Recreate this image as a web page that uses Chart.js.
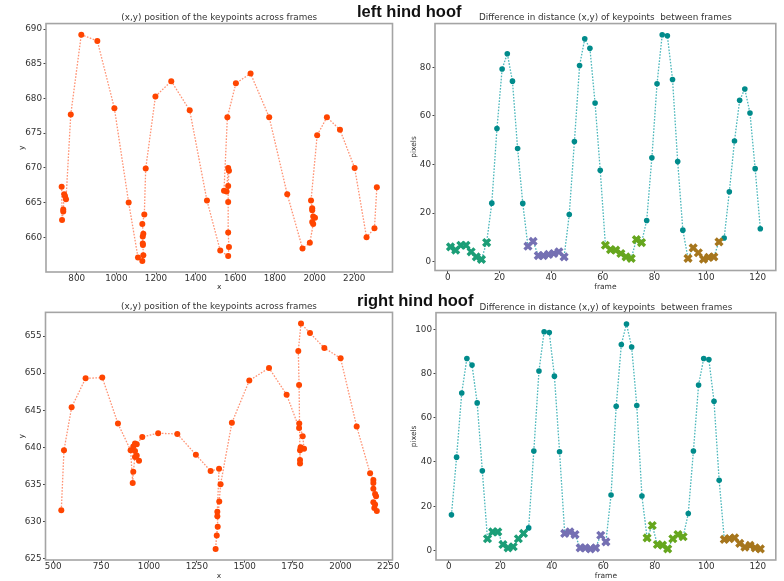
<!DOCTYPE html>
<html>
<head>
<meta charset="utf-8">
<script src="https://cdn.jsdelivr.net/npm/chart.js@4.4.1/dist/chart.umd.min.js"></script>
<style>
  body { margin: 0; background: #fff; }
  #page { position: relative; width: 784px; height: 581px; overflow: hidden; background: #fff; }
  .panel { position: absolute; }
  .hoof { position: absolute; z-index: 5; white-space: nowrap; line-height: 20px;
          font: bold 16.5px "Liberation Sans", Arial, sans-serif; color: #111; }
</style>
</head>
<body>
<div id="page">
  <div class="panel" style="left:0;top:0;width:400px;height:294px"><canvas id="tl"></canvas></div>
  <div class="panel" style="left:400px;top:0;width:384px;height:294px"><canvas id="tr"></canvas></div>
  <div class="panel" style="left:0;top:290px;width:400px;height:291px"><canvas id="bl"></canvas></div>
  <div class="panel" style="left:400px;top:290px;width:384px;height:291px"><canvas id="br"></canvas></div>
  <div class="hoof" style="left:357px;top:2px">left hind hoof</div>
  <div class="hoof" style="left:357px;top:291px">right hind hoof</div>
</div>
<script>
// keypoint track, left hind hoof (pixel coords)
const leftPosX = [724, 726, 732, 732, 737, 741, 746, 770, 823, 904, 990, 1062, 1109,
  1131, 1136, 1134, 1133, 1133, 1136, 1131, 1141, 1148, 1197, 1277, 1370, 1457, 1524,
  1564, 1568, 1564, 1564, 1564, 1568, 1564, 1556, 1543, 1560, 1603, 1677, 1771, 1862, 1939,
  1976, 1993, 1988, 2002, 1993, 1988, 1988, 1982, 2013, 2062, 2128, 2202, 2262, 2302, 2314];
const leftPosY = [667.3, 662.5, 663.7, 664.0, 666.2, 665.9, 665.5, 677.7, 689.2, 688.3, 678.6, 665.0, 657.1,
  656.6, 657.4, 658.9, 659.1, 660.1, 660.5, 661.9, 663.3, 669.9, 680.3, 682.5, 678.3, 665.3, 658.1,
  657.3, 658.6, 660.7, 665.1, 667.4, 669.6, 670.0, 666.6, 666.7, 677.3, 682.2, 683.6, 677.3, 666.2, 658.4,
  659.2, 661.9, 662.2, 662.8, 663.0, 663.9, 664.2, 665.3, 674.7, 677.3, 675.5, 670.0, 660.0, 661.3, 667.2];

// keypoint track, right hind hoof
const rightPosX = [542, 556, 596, 669, 756, 838, 904, 915, 918, 927, 936, 948, 927, 918, 927, 936,
  965, 1048, 1148, 1245, 1322, 1366, 1357, 1357, 1359, 1354, 1348, 1367, 1374, 1433, 1524, 1627, 1719,
  1784, 1785, 1803, 1810, 1792, 1789, 1789, 1789, 1784, 1780, 1794, 1841, 1916, 2001, 2085,
  2155, 2172, 2172, 2172, 2181, 2186, 2172, 2181, 2177, 2190];
const rightPosY = [631.5, 639.6, 645.4, 649.3, 649.4, 643.2, 639.6, 635.2, 636.7, 638.7, 638.9, 638.2, 639.5, 640.1, 640.5, 640.4,
  641.4, 641.9, 641.8, 639.0, 636.8, 637.1, 631.3, 630.7, 629.3, 628.1, 626.3, 632.7, 635.0, 643.3, 649.0, 650.7, 647.1,
  642.6, 643.2, 641.5, 639.8, 640.0, 639.6, 638.3, 637.8, 648.4, 653.0, 656.7, 655.4, 653.4, 652.0, 642.8,
  636.5, 635.6, 635.2, 634.4, 633.7, 633.4, 632.6, 632.3, 631.8, 631.4];

const frames = [1, 3, 5, 7, 9, 11, 13, 15, 17, 19, 21, 23, 25, 27, 29, 31, 33, 35, 37, 39, 41,
  43, 45, 47, 49, 51, 53, 55, 57, 59, 61, 63, 65, 67, 69, 71, 73, 75, 77, 79, 81, 83, 85, 87,
  89, 91, 93, 95, 97, 99, 101, 103, 105, 107, 109, 111, 113, 115, 117, 119, 121];

// distance moved between frames (pixels)
const leftDiff = [6.1, 4.8, 6.8, 6.8, 4.1, 2.0, 1.0, 7.9, 24.1, 54.8, 79.3, 85.6, 74.3, 46.6, 24.0,
  6.4, 8.4, 2.5, 2.5, 3.0, 3.4, 4.1, 2.0, 19.4, 49.5, 80.7, 91.7, 87.8, 65.3, 37.6,
  6.8, 5.0, 4.8, 3.4, 2.0, 1.4, 9.1, 7.9, 17.0, 42.8, 73.2, 93.4, 93.0, 75.0, 41.2, 13.0,
  1.4, 5.7, 3.7, 1.1, 1.8, 2.0, 8.2, 9.8, 28.8, 49.7, 66.4, 71.1, 61.2, 38.3, 13.6];
const rightDiff = [16.1, 42.2, 71.2, 86.8, 83.8, 66.7, 36.0, 5.3, 8.4, 8.4, 2.7, 1.2, 1.7, 5.3, 7.7,
  10.2, 45.0, 81.1, 98.9, 98.5, 78.8, 44.6, 7.7, 8.4, 7.2, 1.2, 1.2, 0.75, 1.2, 6.9, 3.9,
  25.1, 65.2, 93.1, 102.4, 92.0, 65.5, 24.6, 5.7, 11.3, 2.7, 2.4, 0.75, 5.3, 7.2, 6.2,
  16.7, 45.0, 74.8, 86.8, 86.3, 67.4, 31.7, 5.0, 5.4, 5.7, 3.2, 1.5, 2.3, 1.2, 0.75];

// stance phases (first frame, last frame)
const leftStance = [[1, 15], [31, 45], [61, 75], [93, 105]];
const rightStance = [[15, 29], [45, 61], [77, 91], [107, 121]];

const leftXTicks = [800, 1000, 1200, 1400, 1600, 1800, 2000, 2200];
const leftYTicks = [660, 665, 670, 675, 680, 685, 690];
const rightXTicks = [500, 750, 1000, 1250, 1500, 1750, 2000, 2250];
const rightYTicks = [625, 630, 635, 640, 645, 650, 655];
const frameTicks = [0, 20, 40, 60, 80, 100, 120];
const leftDiffTicks = [0, 20, 40, 60, 80];
const rightDiffTicks = [0, 20, 40, 60, 80, 100];

const FONT = 'DejaVu Sans';
const INK = '#333';
const stanceColors = ['#1b9e77', '#7570b3', '#66a61e', '#a6761d'];

// box round the plot area, like matplotlib spines
const frameBox = {
    id: 'frameBox',
    afterDraw(chart) {
        const { ctx, chartArea: a } = chart;
        ctx.save();
        ctx.strokeStyle = '#a4a4a4';
        ctx.lineWidth = 1.6;
        ctx.strokeRect(a.left, a.top, a.right - a.left, a.bottom - a.top);
        ctx.restore();
    }
};

function axis(o) {
    return {
        type: 'linear',
        min: o.min,
        max: o.max,
        afterBuildTicks: s => { s.ticks = o.ticks.map(v => ({ value: v })); },
        afterFit: s => { if (s.isHorizontal()) s.height = o.size; else s.width = o.size; },
        grid: { drawOnChartArea: false, drawTicks: true, tickLength: 2.5, color: '#444' },
        border: { display: false },
        ticks: { font: { family: FONT, size: 8.8 }, color: INK, padding: o.horizontal ? -1 : 1.5,
                 maxRotation: 0, autoSkip: false, callback: v => String(v) },
        title: { display: true, text: o.title, font: { family: FONT, size: 7.5 }, color: INK,
                 padding: o.horizontal ? { top: 0, bottom: o.titlePad } : { top: o.titlePad, bottom: 0 } }
    };
}

function trackDatasets(xs, ys) {
    return [{
        data: xs.map((x, i) => ({ x, y: ys[i] })),
        showLine: true,
        borderColor: 'rgba(255,100,55,0.7)',
        borderWidth: 1.3,
        borderDash: [1.6, 1.5],
        pointRadius: 3,
        pointBackgroundColor: '#ff4500',
        pointBorderWidth: 0
    }];
}

function diffDatasets(values, stance) {
    const inStance = f => stance.some(([a, b]) => f >= a && f <= b);
    const pts = frames.map((f, i) => ({ x: f, y: values[i] }));
    const sets = [{
        data: pts,
        showLine: true,
        borderColor: 'rgba(30,165,170,0.8)',
        borderWidth: 1.3,
        borderDash: [1.6, 1.5],
        pointRadius: ctx => inStance(ctx.raw.x) ? 0 : 2.8,
        pointBackgroundColor: '#008b8b',
        pointBorderWidth: 0,
        order: 2
    }];
    stance.forEach(([a, b], k) => sets.push({
        data: pts.filter(p => p.x >= a && p.x <= b),
        showLine: false,
        pointStyle: 'crossRot',
        pointRadius: 4.8,
        pointBorderColor: stanceColors[k],
        pointBorderWidth: 3.4,
        order: 1
    }));
    return sets;
}

function panel(id, title, titlePad, pad, x, y, datasets) {
    return new Chart(document.getElementById(id), {
        type: 'scatter',
        data: { datasets },
        options: {
            responsive: true,
            maintainAspectRatio: false,
            animation: false,
            layout: { padding: pad },
            plugins: {
                legend: { display: false },
                tooltip: { enabled: false },
                title: { display: true, text: title, fullSize: false, color: INK,
                         font: { family: FONT, size: 8.8, weight: 'normal' }, padding: titlePad }
            },
            scales: { x: axis(x), y: axis(y) }
        },
        plugins: [frameBox]
    });
}

const posTitle = '(x,y) position of the keypoints across frames';
const diffTitle = 'Difference in distance (x,y) of keypoints  between frames';

panel('tl', posTitle, { top: 12, bottom: 1 }, { left: 0, right: 7.5, top: 0, bottom: 0 },
    { min: 645, max: 2393, ticks: leftXTicks, title: 'x', size: 22, titlePad: 2.8, horizontal: true },
    { min: 655, max: 690.8, ticks: leftYTicks, title: 'y', size: 46, titlePad: 17.2 },
    trackDatasets(leftPosX, leftPosY));

panel('tr', diffTitle, { top: 12, bottom: 1 }, { left: 0, right: 1.4, top: 0, bottom: 0 },
    { min: -5, max: 127, ticks: frameTicks, title: 'frame', size: 23.5, titlePad: 2.8, horizontal: true },
    { min: -3.6, max: 98, ticks: leftDiffTicks, title: 'pixels', size: 35, titlePad: 9.8 },
    diffDatasets(leftDiff, leftStance));

panel('bl', posTitle, { top: 11.8, bottom: 0 }, { left: 0, right: 7.5, top: 0, bottom: 0 },
    { min: 459.5, max: 2272, ticks: rightXTicks, title: 'x', size: 21, titlePad: 0, horizontal: true },
    { min: 624.8, max: 658.2, ticks: rightYTicks, title: 'y', size: 45.5, titlePad: 17.2 },
    trackDatasets(rightPosX, rightPosY));

panel('br', diffTitle, { top: 12.1, bottom: 0 }, { left: 0, right: 1, top: 0, bottom: 0 },
    { min: -5, max: 127, ticks: frameTicks, title: 'frame', size: 21, titlePad: 0.5, horizontal: true },
    { min: -4.3, max: 107.5, ticks: rightDiffTicks, title: 'pixels', size: 36, titlePad: 9.5 },
    diffDatasets(rightDiff, rightStance));
</script>
</body>
</html>
